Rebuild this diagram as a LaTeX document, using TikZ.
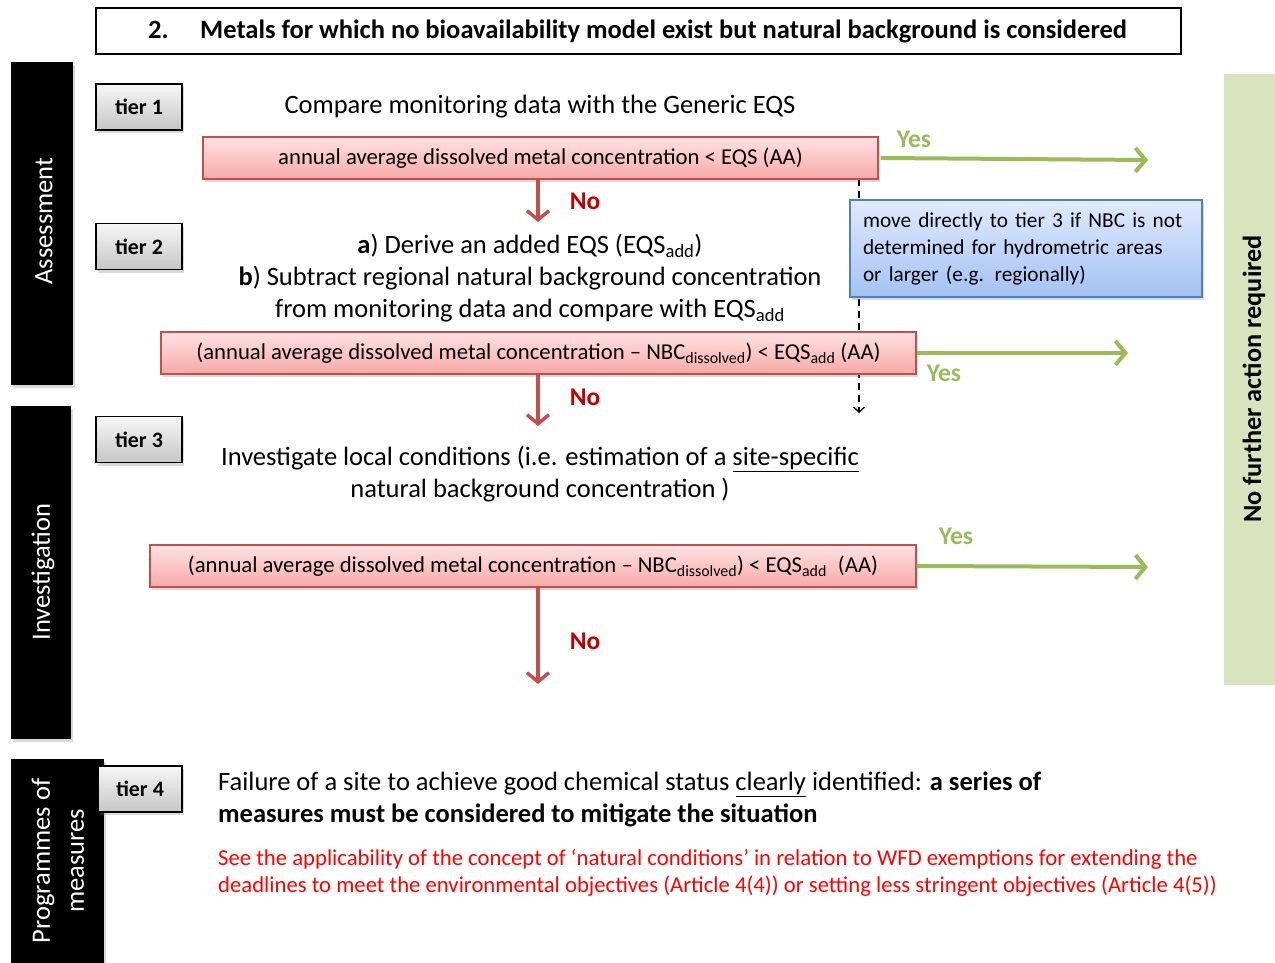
\documentclass[tikz,border=0pt]{standalone}
\usepackage{fontspec}
\setmainfont{Carlito}
\usetikzlibrary{arrows.meta,shadows}
\definecolor{redborder}{RGB}{192,80,77}
\definecolor{redtop}{RGB}{255,226,226}
\definecolor{redbot}{RGB}{246,168,168}
\definecolor{bluetop}{RGB}{224,234,252}
\definecolor{bluebot}{RGB}{163,194,244}
\definecolor{blueborder}{RGB}{79,129,189}
\definecolor{greenarrow}{RGB}{155,187,89}
\definecolor{greenbar}{RGB}{215,228,189}
\definecolor{nored}{RGB}{192,0,0}
\definecolor{notered}{RGB}{255,0,0}
\definecolor{tiertop}{RGB}{246,246,246}
\definecolor{tierbot}{RGB}{198,198,198}
\tikzset{
  x=1pt,y=-1pt,
  shadowed/.style={drop shadow={opacity=0.3,shadow xshift=2pt,shadow yshift=-3pt}},
  tierbox/.style={draw=black,line width=1.2pt,top color=tiertop,bottom color=tierbot,
    minimum width=86pt,minimum height=46pt,inner sep=0pt,shadowed,
    font=\fontsize{22}{24}\selectfont\bfseries},
  redbox/.style={draw=redborder,line width=1.2pt,top color=redtop,bottom color=redbot,
    minimum height=42pt,inner sep=0pt,shadowed,font=\fontsize{22.7}{25}\selectfont},
  bluebox/.style={draw=blueborder,line width=1.2pt,top color=bluetop,bottom color=bluebot,
    minimum width=352pt,minimum height=97pt,text width=326pt,inner xsep=13pt,align=left,
    shadowed,font=\fontsize{21.3}{27}\selectfont},
  blackbar/.style={fill=black,inner sep=0pt,shadowed},
  bartext/.style={text=white,rotate=90,align=center,font=\fontsize{26.5}{34}\selectfont},
  maintext/.style={inner sep=0pt,font=\fontsize{26.5}{32}\selectfont},
  nolabel/.style={text=nored,font=\fontsize{25.5}{27}\selectfont\bfseries},
  yeslabel/.style={text=greenarrow,font=\fontsize{25.5}{27}\selectfont\bfseries},
  redarrow/.style={draw=redborder,line width=3.5pt,-{Straight Barb[length=9pt,width=22pt]}},
  greenarr/.style={draw=greenarrow,line width=4pt,-{Straight Barb[length=10pt,width=24pt]}},
}
\begin{document}
\begin{tikzpicture}
\useasboundingbox (0,0) rectangle (1275,963);
% dashed connector (behind boxes)
\coordinate (dtop) at (859,179);
\coordinate (dend) at (859,413);
\draw[line width=1.3pt,dash pattern=on 7pt off 5pt,-{Straight Barb[length=5pt,width=11pt]}] (dtop) -- (dend);

% title
\node[draw,line width=2.5pt,minimum width=1085pt,minimum height=46pt,inner sep=0pt] (title) at (638.5,31) {};
\node[anchor=west,inner sep=0pt,font=\fontsize{26.5}{28}\selectfont\bfseries] (titletext) at (148,31)
  {\makebox[52pt][l]{2.}Metals for which no bioavailability model exist but natural background is considered};

% left bars
\node[blackbar,minimum width=62pt,minimum height=323pt] (assess) at (42,223.5) {};
\node[bartext] (assesst) at (44,221) {Assessment};
\node[blackbar,minimum width=60pt,minimum height=333pt] (invest) at (41,572.5) {};
\node[bartext] (investt) at (43,572) {Investigation};
\node[blackbar,minimum width=93pt,minimum height=210pt] (prog) at (57.5,864) {};
\node[bartext] (progt) at (58,861) {Programmes of\\measures};

% right green bar
\node[fill=greenbar,minimum width=51pt,minimum height=611pt,inner sep=0pt] (nofurther) at (1249.5,379.5) {};
\node[rotate=90,font=\fontsize{26.3}{28}\selectfont\bfseries] (nofurthert) at (1254,379) {No further action required};

% tier boxes
\node[tierbox] (tier1) at (139,107) {tier 1};
\node[tierbox] (tier2) at (139,246.5) {tier 2};
\node[tierbox] (tier3) at (139,439.5) {tier 3};
\node[tierbox,minimum width=84pt] (tier4) at (140,789) {tier 4};

% texts
\node[maintext] (t1) at (540,107) {Compare monitoring data with the Generic EQS};
\node[maintext,align=center] (t2) at (530,278) {\textbf{a}) Derive an added EQS (EQS\textsubscript{add})\\
  \textbf{b}) Subtract regional natural background concentration\\
  from monitoring data and compare with EQS\textsubscript{add}};
\node[maintext,align=center] (t3) at (540,474) {Investigate local conditions (i.e. estimation of a \underline{site-specific}\\
  natural background concentration )};
\node[maintext,align=left,anchor=west] (t4) at (218,799) {Failure of a site to achieve good chemical status \underline{clearly} identified: \textbf{a series of}\\
  \textbf{measures must be considered to mitigate the situation}};
\node[anchor=west,align=left,inner sep=0pt,text=notered,font=\fontsize{22.7}{27}\selectfont] (note) at (218,872.5)
  {See the applicability of the concept of `natural conditions' in relation to WFD exemptions for extending the\\
  deadlines to meet the environmental objectives (Article 4(4)) or setting less stringent objectives (Article 4(5))};

% red decision boxes
\node[redbox,minimum width=675pt] (r1) at (540.5,158) {annual average dissolved metal concentration < EQS (AA)};
\node[redbox,minimum width=755pt] (r2) at (538.5,353) {(annual average dissolved metal concentration -- NBC\textsubscript{dissolved}) < EQS\textsubscript{add} (AA)};
\node[redbox,minimum width=766pt] (r3) at (533,566) {(annual average dissolved metal concentration -- NBC\textsubscript{dissolved}) < EQS\textsubscript{add}\hspace{6pt} (AA)};

% blue note
\node[bluebox] (nbc) at (1026,248.5) {move directly to tier 3 if NBC is not\\determined for hydrometric areas\\or larger (e.g. regionally)};

% No arrows
\coordinate (n1) at (538,222);
\coordinate (n2) at (538,426);
\coordinate (n3) at (538,684);
\draw[redarrow] (r1.south -| n1) -- (n1);
\draw[redarrow] (r2.south -| n2) -- (n2);
\draw[redarrow] (r3.south -| n3) -- (n3);
\node[nolabel] (no1) at (585,201) {No};
\node[nolabel] (no2) at (585,397) {No};
\node[nolabel] (no3) at (585,641) {No};

% Yes arrows
\coordinate (y1) at (1148,160);
\coordinate (y2) at (1128,353);
\coordinate (y3) at (1148,567);
\draw[greenarr] (r1.east) ++(2,0) -- (y1);
\draw[greenarr] (r2.east) -- (y2);
\draw[greenarr] (r3.east) -- (y3);
\node[yeslabel] (yes1) at (914,139) {Yes};
\node[yeslabel] (yes2) at (944,373) {Yes};
\node[yeslabel] (yes3) at (956,536) {Yes};
\end{tikzpicture}
\end{document}
